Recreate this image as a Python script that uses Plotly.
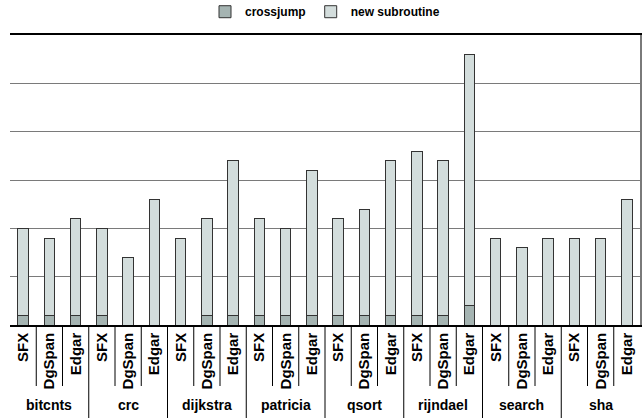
import plotly.graph_objects as go

groups = ["bitcnts", "crc", "dijkstra", "patricia", "qsort", "rijndael", "search", "sha"]
tools = ["SFX", "DgSpan", "Edgar"]

# values per group, in order SFX, DgSpan, Edgar
crossjump = [1, 1, 1,
             1, 0, 0,
             0, 1, 1,
             1, 1, 1,
             1, 1, 1,
             1, 1, 2,
             0, 0, 0,
             0, 0, 0]
new_subroutine = [9, 8, 10,
                  9, 7, 13,
                  9, 10, 16,
                  10, 9, 15,
                  10, 11, 16,
                  17, 16, 26,
                  9, 8, 9,
                  9, 9, 13]

n_t = len(tools)
x_inner = [t for _ in groups for t in tools]
pos = list(range(len(x_inner)))
group_centers = [i * n_t + (n_t - 1) / 2 for i in range(len(groups))]
group_bounds = [i * n_t - 0.5 for i in range(1, len(groups))]
inner_bounds = [i * n_t + j + 0.5 for i in range(len(groups)) for j in range(n_t - 1)]

FONT = "Liberation Sans, Arial, sans-serif"
PLOT_H = 290.0  # plot area height in px (418 - 35 - 93)

fig = go.Figure()
fig.add_trace(go.Bar(
    x=pos, y=crossjump, name="crossjump",
    marker=dict(color="#a5b4b2", line=dict(color="#333333", width=1)),
))
fig.add_trace(go.Bar(
    x=pos, y=new_subroutine, name="new subroutine",
    marker=dict(color="#d3dddc", line=dict(color="#333333", width=1)),
))

shapes = []
for b in inner_bounds:
    shapes.append(dict(type="line", xref="x", yref="paper", x0=b, x1=b,
                       y0=0, y1=-61 / PLOT_H, line=dict(color="black", width=1)))
for b in group_bounds:
    shapes.append(dict(type="line", xref="x", yref="paper", x0=b, x1=b,
                       y0=0, y1=-95 / PLOT_H, line=dict(color="black", width=1)))

annotations = [dict(x=c, y=-80 / PLOT_H, xref="x", yref="paper", text=g,
                    showarrow=False, xanchor="center", yanchor="middle",
                    font=dict(size=14, family=FONT, color="black", weight="bold"))
               for c, g in zip(group_centers, groups)]

xr = [-0.5, len(pos) - 0.5]

fig.update_layout(
    template="none",
    barmode="stack",
    bargap=0.6,
    width=643, height=418,
    margin=dict(l=10, r=3, t=35, b=93, pad=0),
    paper_bgcolor="white", plot_bgcolor="white",
    font=dict(family=FONT, color="black", size=14),
    showlegend=True,
    legend=dict(orientation="h", x=0.5, xanchor="center", y=0.972, yref="container",
                yanchor="middle", font=dict(size=12, family=FONT, weight="bold"),
                traceorder="normal", itemwidth=30, bgcolor="rgba(0,0,0,0)"),
    xaxis=dict(
        range=xr, automargin=False,
        tickmode="array", tickvals=pos, ticktext=x_inner,
        ticks="", tickangle=-90,
        tickfont=dict(size=15, family=FONT, color="black", weight="bold"),
        showline=True, linecolor="black", linewidth=1.5, mirror=True,
        showgrid=False, zeroline=False,
    ),
    yaxis=dict(
        automargin=False,
        range=[0, 30], dtick=5, showticklabels=False, ticks="",
        showgrid=True, gridcolor="#7a7a7a", gridwidth=1,
        side="right", showline=True, linecolor="#7a7a7a", linewidth=1.5,
        zeroline=False,
    ),
    shapes=shapes,
    annotations=annotations,
)

fig.write_html("out.html", config={"displayModeBar": False},
               post_script="document.body.style.margin='0';document.body.style.overflow='hidden';")
